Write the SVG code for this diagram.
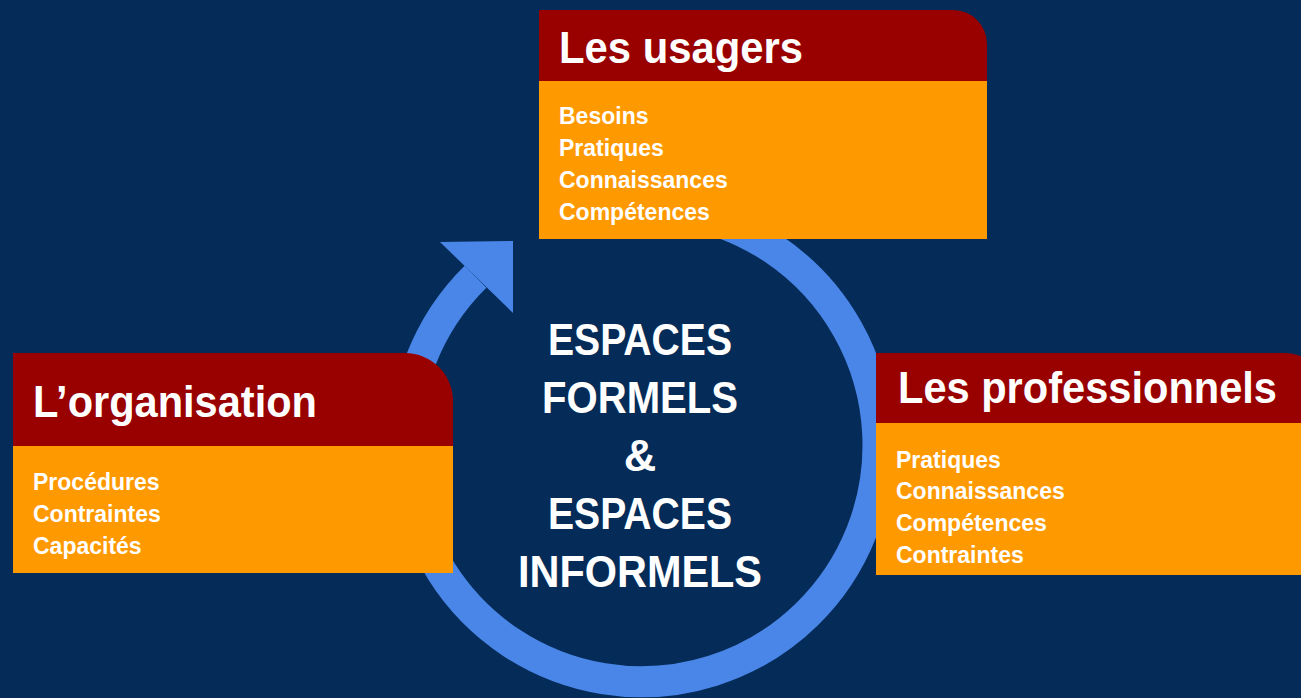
<svg xmlns="http://www.w3.org/2000/svg" width="1301" height="698" viewBox="0 0 1301 698">
<style>
.hdr{fill:#990000}
.body{fill:#FF9900}
.t{font-family:"Liberation Sans",Arial,sans-serif;font-weight:bold;fill:#FFFFFF}
.title{font-size:44px}
.item{font-size:23px}
.center{font-size:45px;text-anchor:middle}
</style>
<rect x="0" y="0" width="1301" height="698" fill="#052C58"/>
<g id="connectors">
<path d="M681.1 212.1 A236.5 236.5 0 1 1 475.5 276.8" fill="none" stroke="#4A86E8" stroke-width="31"/>
<polygon points="440,242 513,241 513,313" fill="#4A86E8"/>
</g>
<g id="center-label">
<text class="t center" x="640" y="355" textLength="184" lengthAdjust="spacingAndGlyphs">ESPACES</text>
<text class="t center" x="640" y="413" textLength="196" lengthAdjust="spacingAndGlyphs">FORMELS</text>
<text class="t center" x="640" y="471">&amp;</text>
<text class="t center" x="640" y="529" textLength="184" lengthAdjust="spacingAndGlyphs">ESPACES</text>
<text class="t center" x="640" y="587" textLength="244" lengthAdjust="spacingAndGlyphs">INFORMELS</text>
</g>
<g id="usagers">
<path class="hdr" d="M539 10 H953 A34 34 0 0 1 987 44 V81 H539 Z"/>
<rect class="body" x="539" y="81" width="448" height="158"/>
<text class="t title" x="559" y="63" textLength="244" lengthAdjust="spacingAndGlyphs">Les usagers</text>
<text class="t item" x="559" y="124">Besoins</text>
<text class="t item" x="559" y="156">Pratiques</text>
<text class="t item" x="559" y="188">Connaissances</text>
<text class="t item" x="559" y="220">Compétences</text>
</g>
<g id="organisation">
<path class="hdr" d="M13 353 H405 A48 48 0 0 1 453 401 V446 H13 Z"/>
<rect class="body" x="13" y="446" width="440" height="127"/>
<text class="t title" x="33" y="417" textLength="284" lengthAdjust="spacingAndGlyphs">L’organisation</text>
<text class="t item" x="33" y="490">Procédures</text>
<text class="t item" x="33" y="522">Contraintes</text>
<text class="t item" x="33" y="554">Capacités</text>
</g>
<g id="professionnels">
<path class="hdr" d="M876 353 H1286 A34 34 0 0 1 1320 387 V423 H876 Z"/>
<rect class="body" x="876" y="423" width="444" height="152"/>
<text class="t title" x="898" y="403" textLength="379" lengthAdjust="spacingAndGlyphs">Les professionnels</text>
<text class="t item" x="896" y="468">Pratiques</text>
<text class="t item" x="896" y="499">Connaissances</text>
<text class="t item" x="896" y="531">Compétences</text>
<text class="t item" x="896" y="563">Contraintes</text>
</g>
</svg>
